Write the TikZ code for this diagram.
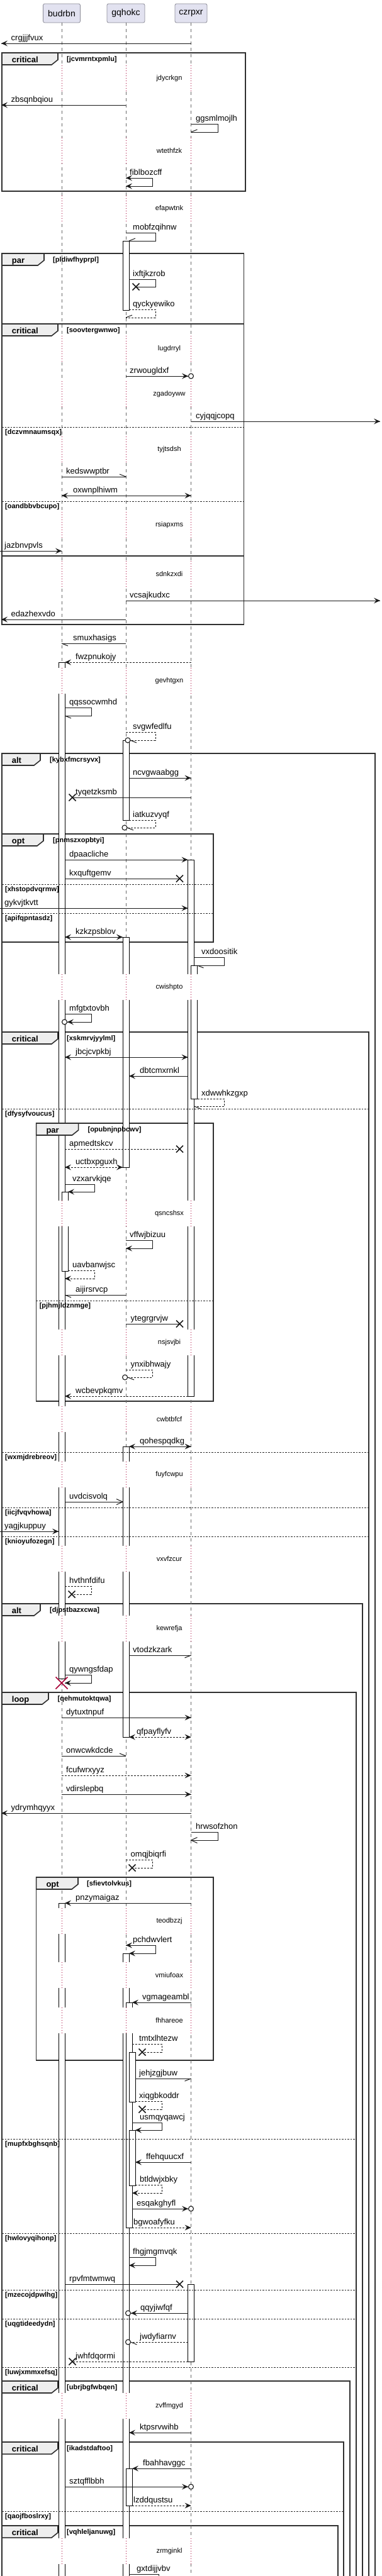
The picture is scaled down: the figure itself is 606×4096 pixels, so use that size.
\documentclass[tikz,border=0pt]{standalone}
\usepackage{fontspec}
\setmainfont{Liberation Sans}
\usetikzlibrary{arrows.meta}
\definecolor{partfill}{HTML}{E2E2F0}
\definecolor{partline}{HTML}{8A8A96}
\definecolor{lifec}{HTML}{6A6A6A}
\definecolor{delayc}{HTML}{A80036}
\definecolor{framec}{HTML}{303030}
\definecolor{tabfill}{HTML}{EEEEEE}
\tikzset{
 part/.style={draw=partline, fill=partfill, rounded corners=2.5pt, line width=0.8pt, minimum height=30pt, inner sep=0pt, font=\fontsize{14}{16}\selectfont},
 life/.style={draw=lifec, line width=0.8pt, dash pattern=on 5pt off 5pt},
 dly/.style={draw=delayc, line width=1pt, dash pattern=on 1pt off 3pt},
 ml/.style={draw=black!90, line width=1pt},
 dl/.style={ml, dash pattern=on 3pt off 2pt},
 actbar/.style={draw=black, fill=white, line width=1pt},
 frm/.style={draw=framec, line width=1.6pt},
 sepline/.style={draw=black!85, line width=0.8pt, dash pattern=on 2.5pt off 2pt},
 lab/.style={anchor=base west, inner sep=0pt, font=\fontsize{13}{15}\selectfont},
 glab/.style={anchor=base west, inner sep=0pt, font=\bfseries\fontsize{11}{13}\selectfont},
 tlab/.style={anchor=base west, inner sep=0pt, font=\bfseries\fontsize{13}{15}\selectfont},
 dlab/.style={anchor=center, inner sep=0pt, font=\fontsize{11}{13}\selectfont},
}
\newcommand\mHR[2]{\fill[black!90] (#1,#2) -- ++(-10,-4.5) -- ++(4,4.5) -- ++(-4,4.5) -- cycle;}
\newcommand\mHL[2]{\fill[black!90] (#1,#2) -- ++(10,-4.5) -- ++(-4,4.5) -- ++(4,4.5) -- cycle;}
\newcommand\mOR[2]{\draw[ml] (#1,#2) ++(-10,-4.5) -- (#1,#2) -- ++(-10,4.5);}
\newcommand\mOL[2]{\draw[ml] (#1,#2) ++(10,-4.5) -- (#1,#2) -- ++(10,4.5);}
\newcommand\mBRU[2]{\draw[ml] (#1,#2) -- ++(-10,-4);}
\newcommand\mBRL[2]{\draw[ml] (#1,#2) -- ++(-10,4);}
\newcommand\mBLU[2]{\draw[ml] (#1,#2) -- ++(10,-4);}
\newcommand\mBLL[2]{\draw[ml] (#1,#2) -- ++(10,4);}
\newcommand\mX[2]{\draw[black!90, line width=1.5pt] (#1,#2) ++(-5.5,-5.5) -- ++(11,11) ++(-11,0) -- ++(11,-11);}
\newcommand\mC[2]{\draw[black!90, line width=1.1pt, fill=white] (#1,#2) circle[radius=4];}
\newcommand\mT[4]{\node[lab] (#1) at (#2,{#3-5}) {#4};}
\newcommand\mFrm[4]{\draw[frm] (#1,#2) rectangle (#3,#4);}
\newcommand\mTab[7]{%
 \draw[frm, fill=tabfill] (#1,#2) -- (#3,#2) -- (#3,{#2+11}) -- ({#3-10},{#2+19}) -- (#1,{#2+19}) -- cycle;
 \node[tlab] (#7t) at ({#1+15.7},{#2+15}) {#4};
 \node[glab] (#7g) at (#5,{#2+13.5}) {#6};}
\newcommand\mSep[5]{%
 \draw[sepline] (#1,#3) -- (#2,#3);
 \node[glab] (#5) at ({#1+5},{#3+11.5}) {#4};}
\newcommand\mBar[4]{\draw[actbar] (#1,#2) rectangle (#3,#4);}
\newcommand\mDly[3]{%
 \fill[white] (86,{#2-21}) rectangle (112,{#2+20});
 \fill[white] (190,{#2-21}) rectangle (219,{#2+20});
 \fill[white] (293,{#2-21}) rectangle (318,{#2+20});
 \draw[dly] (98,{#2-21}) -- (98,{#2+20});
 \draw[dly] (200,{#2-21}) -- (200,{#2+20});
 \draw[dly] (303.5,{#2-21}) -- (303.5,{#2+20});
 \node[dlab] (#1) at (269,#2) {#3};}
\begin{document}
\begin{tikzpicture}[x=1pt,y=-1pt]
\useasboundingbox (0,0) rectangle (606,4096);
\fill[white] (0,0) rectangle (606,4096);
\clip (0,0) rectangle (606,4096);
% ---------- frames ----------
\mFrm{3}{84}{390}{304}
\mFrm{3}{403}{387.5}{515}
\mFrm{3}{515}{387.5}{884}
\mFrm{3}{884}{387.5}{993}
\mFrm{3}{1198}{596}{4110}
\mFrm{3}{1326}{339}{1498}
\mFrm{3}{1641}{586}{4110}
\mFrm{57.6}{1786}{339}{2228}
\mFrm{3}{2550}{576}{4110}
\mFrm{3}{2691}{566}{4110}
\mFrm{57.6}{2985}{339}{3276}
\mFrm{3}{3786}{556}{4110}
\mFrm{3}{3883}{546}{4110}
\mFrm{3}{4016}{537}{4110}
% ---------- participants and lifelines ----------
\node[part, minimum width=59pt] (pb) at (98,21) {budrbn};
\node[part, minimum width=60pt] (pg) at (200,21) {gqhokc};
\node[part, minimum width=51pt] (pc) at (303.5,21) {czrpxr};
\coordinate (eb) at (98,4110);
\coordinate (eg) at (200,4110);
\coordinate (ec) at (303.5,4110);
\draw[life] (pb.south) -- (eb);
\draw[life] (pg.south) -- (eg);
\draw[life] (pc.south) -- (ec);
% ---------- activation bars ----------
\mBar{93}{1053}{103}{2669}
\mBar{298.5}{1367}{308.5}{2220}
\mBar{195}{383}{205}{493}
\mBar{195}{1177}{205}{1304}
\mBar{195}{1490}{205}{1856}
\mBar{303.5}{1535}{313.5}{1747}
\mBar{98}{1895}{108}{2021}
\mBar{195}{2300}{205}{2762}
\mBar{93}{3026}{103}{4110}
\mBar{195}{3106}{205}{4110}
\mBar{200}{3184}{210}{3542}
\mBar{205}{3263}{215}{3342}
\mBar{205}{3387}{215}{3475}
\mBar{298.5}{3632}{308.5}{3755}
\mBar{200}{3925}{210}{3984}
% ---------- tabs, separators ----------
\mTab{3}{84}{92}{critical}{106}{[jcvmrntxpmlu]}{f1}
\mTab{3}{403}{70}{par}{84}{[pldiwfhyprpl]}{f2}
\mTab{3}{515}{92}{critical}{106}{[soovtergwnwo]}{f3}
\mTab{3}{1198}{64}{alt}{79}{[kybxfmcrsyvx]}{f5}
\mTab{3}{1326}{69}{opt}{84}{[pnmszxopbtyi]}{f6}
\mTab{3}{1641}{92}{critical}{106}{[xskmrvjyylml]}{f7}
\mTab{57.6}{1786}{124.6}{par}{139.4}{[opubnjnpbcwv]}{f8}
\mTab{3}{2550}{64}{alt}{79}{[djpstbazxcwa]}{f9}
\mTab{3}{2691}{77}{loop}{91.5}{[qehmutoktqwa]}{f10}
\mTab{57.6}{2985}{124}{opt}{138}{[sfievtolvkus]}{f11}
\mTab{3}{3786}{92}{critical}{106}{[ubrjbgfwbqen]}{f12}
\mTab{3}{3883}{92}{critical}{106}{[ikadstdaftoo]}{f13}
\mTab{3}{4016}{92}{critical}{106}{[vqhleljanuwg]}{f14}
\mSep{3}{387.5}{679}{[dczvmnaumsqx]}{s1}
\mSep{3}{387.5}{797}{[oandbbvbcupo]}{s2}
\mSep{3}{339}{1406}{[xhstopdvqrmw]}{s3}
\mSep{3}{339}{1452}{[apifqpntasdz]}{s4}
\mSep{3}{586}{1763}{[dfysyfvoucus]}{s5}
\mSep{57.6}{339}{2068}{[pjhmjldznmge]}{s6}
\mSep{3}{586}{2309}{[wxmjdrebreov]}{s7}
\mSep{3}{586}{2397}{[iicjfvqvhowa]}{s8}
\mSep{3}{586}{2443}{[knioyufozegn]}{s9}
\mSep{3}{566}{3401}{[mupfxbghsqnb]}{s10}
\mSep{3}{566}{3551}{[hwlovyqihonp]}{s11}
\mSep{3}{566}{3641}{[mzecojdpwlhg]}{s12}
\mSep{3}{566}{3687}{[uqgtideedydn]}{s13}
\mSep{3}{566}{3764}{[luwjxmmxefsq]}{s14}
\mSep{3}{546}{3993}{[qaojfboslrxy]}{s15}
% ---------- delays ----------
\mDly{d1}{125}{jdycrkgn}
\mDly{d2}{240}{wtethfzk}
\mDly{d3}{332}{efapwtnk}
\mDly{d4}{555}{lugdrryl}
\mDly{d5}{627}{zgadoyww}
\mDly{d6}{715}{tyjtsdsh}
\mDly{d7}{835}{rsiapxms}
\mDly{d8}{913}{sdnkzxdi}
\mDly{d9}{1083}{gevhtgxn}
\mDly{d10}{1570}{cwishpto}
\mDly{d11}{1930}{qsncshsx}
\mDly{d12}{2135}{nsjsvjbi}
\mDly{d13}{2257}{cwbtbfcf}
\mDly{d14}{2345}{fuyfcwpu}
\mDly{d15}{2479}{vxvfzcur}
\mDly{d16}{2590}{kewrefja}
\mDly{d17}{3055}{teodbzzj}
\mDly{d18}{3141}{vmiufoax}
\mDly{d19}{3213}{fhhareoe}
\mDly{d20}{3826}{zvffmgyd}
\mDly{d21}{4057}{zrmginkl}
% ---------- messages ----------
\draw[ml] (303.5,69) -- (2,69); \mHL{2}{69} \mT{t1}{17.5}{69}{crgjjjfvux}
\draw[ml] (200,167) -- (2,167); \mHL{2}{167} \mT{t2}{17.5}{167}{zbsqnbqiou}
\draw[ml] (303.5,197) -- (346,197) -- (346,210) -- (303.5,210); \mBLU{303.5}{210} \mT{t3}{311}{197}{ggsmlmojlh}
\draw[ml] (200,283) -- (242,283) -- (242,296) -- (200,296); \mHL{200}{283} \mHL{200}{296} \mT{t4}{206}{283}{fiblbozcff}
\draw[ml] (200,370) -- (247,370) -- (247,383) -- (205,383); \mBLU{205}{383} \mT{t5}{211}{370}{mobfzqihnw}
\draw[ml] (205,444) -- (247,444) -- (247,456) -- (216,456); \mX{216}{456} \mT{t6}{211}{444}{ixftjkzrob}
\draw[dl] (205,492) -- (247,492) -- (247,505) -- (200,505); \mBLU{200}{505} \mT{t7}{211}{492}{qyckyewiko}
\draw[ml] (200,598) -- (299,598); \mHR{299}{598} \mC{303.5}{598} \mT{t8}{206}{598}{zrwougldxf}
\draw[ml] (303.5,670) -- (604,670); \mHR{604}{670} \mT{t9}{311}{670}{cyjqqjcopq}
\draw[ml] (98,758) -- (200,758); \mBRU{200}{758} \mT{t10}{105}{758}{kedswwptbr}
\draw[ml] (98,788) -- (303.5,788); \mHL{98}{788} \mHR{303.5}{788} \mT{t11}{116}{788}{oxwnplhiwm}
\draw[ml] (0,876) -- (98,876); \mHR{98}{876} \mT{t12}{7}{876}{jazbnvpvls}
\draw[ml] (200,955) -- (604,955); \mHR{604}{955} \mT{t13}{206}{955}{vcsajkudxc}
\draw[ml] (200,985) -- (2,985); \mHL{2}{985} \mT{t14}{17.5}{985}{edazhexvdo}
\draw[ml] (200,1023) -- (98,1023); \mBLL{98}{1023} \mT{t15}{116}{1023}{smuxhasigs}
\draw[dl] (303.5,1053) -- (103,1053); \mHL{103}{1053} \mT{t16}{120}{1053}{fwzpnukojy}
\draw[ml] (103,1125) -- (145,1125) -- (145,1138) -- (103,1138); \mBLL{103}{1138} \mT{t17}{110}{1125}{qqssocwmhd}
\draw[dl] (200,1164) -- (247,1164) -- (247,1177) -- (207,1177); \mC{203}{1177} \mBLL{207}{1177} \mT{t18}{211}{1164}{svgwfedlfu}
\draw[ml] (205,1237) -- (303.5,1237); \mHR{303.5}{1237} \mT{t19}{211}{1237}{ncvgwaabgg}
\draw[ml] (303.5,1268) -- (115,1268); \mX{115}{1268} \mT{t20}{120}{1268}{tyqetzksmb}
\draw[dl] (205,1304) -- (247,1304) -- (247,1316) -- (202,1316); \mC{198}{1316} \mBLL{202}{1316} \mT{t21}{211}{1304}{iatkuzvyqf}
\draw[ml] (103,1367) -- (298.5,1367); \mHR{298.5}{1367} \mT{t22}{110}{1367}{dpaacliche}
\draw[ml] (103,1397) -- (285.5,1397); \mX{285.5}{1397} \mT{t23}{110}{1397}{kxquftgemv}
\draw[ml] (0,1444) -- (298.5,1444); \mHR{298.5}{1444} \mT{t24}{7}{1444}{gykvjtkvtt}
\draw[ml] (103,1490) -- (195,1490); \mHL{103}{1490} \mHR{195}{1490} \mT{t25}{120}{1490}{kzkzpsblov}
\draw[ml] (308.5,1522) -- (356,1522) -- (356,1535) -- (313.5,1535); \mBLL{313.5}{1535} \mT{t26}{320}{1522}{vxdoositik}
\draw[ml] (103,1612) -- (145,1612) -- (145,1625) -- (107,1625); \mHL{107}{1625} \mC{102.5}{1625} \mT{t27}{110}{1612}{mfgtxtovbh}
\draw[ml] (103,1681) -- (298.5,1681); \mHL{103}{1681} \mHR{298.5}{1681} \mT{t28}{120}{1681}{jbcjcvpkbj}
\draw[ml] (298.5,1711) -- (205,1711); \mHL{205}{1711} \mT{t29}{222}{1711}{dbtcmxrnkl}
\draw[dl] (313.5,1747) -- (356,1747) -- (356,1759) -- (308.5,1759); \mBLL{308.5}{1759} \mT{t30}{320}{1747}{xdwwhkzgxp}
\draw[dl] (103,1827) -- (285.5,1827); \mX{285.5}{1827} \mT{t31}{110}{1827}{apmedtskcv}
\draw[dl] (103,1856) -- (195,1856); \mHL{103}{1856} \mHR{195}{1856} \mT{t32}{120}{1856}{uctbxpguxh}
\draw[ml] (103,1883) -- (150,1883) -- (150,1895) -- (108,1895); \mHL{108}{1895} \mT{t33}{115}{1883}{vzxarvkjqe}
\draw[ml] (200,1972) -- (242,1972) -- (242,1985) -- (200,1985); \mHL{200}{1985} \mT{t34}{206}{1972}{vffwjbizuu}
\draw[dl] (108,2020) -- (150,2020) -- (150,2033) -- (103,2033); \mHL{103}{2033} \mT{t35}{115}{2020}{uavbanwjsc}
\draw[ml] (200,2059) -- (103,2059); \mBLL{103}{2059} \mT{t36}{120}{2059}{aijirsrvcp}
\draw[ml] (200,2105) -- (285.5,2105); \mX{285.5}{2105} \mT{t37}{207.5}{2105}{ytegrgrvjw}
\draw[dl] (200,2178) -- (242,2178) -- (242,2190) -- (203,2190); \mC{198.6}{2190} \mBLL{203}{2190} \mT{t38}{207.5}{2178}{ynxibhwajy}
\draw[dl] (298.5,2220) -- (103,2220); \mHL{103}{2220} \mT{t39}{120}{2220}{wcbevpkqmv}
\draw[ml] (205,2300) -- (303.5,2300); \mHL{205}{2300} \mHR{303.5}{2300} \mT{t40}{222}{2300}{qohespqdkg}
\draw[ml] (103,2388) -- (195,2388); \mOR{195}{2388} \mT{t41}{110}{2388}{uvdcisvolq}
\draw[ml] (0,2435) -- (93,2435); \mHR{93}{2435} \mT{t42}{7}{2435}{yagjkuppuy}
\draw[dl] (103,2522) -- (145,2522) -- (145,2535) -- (114,2535); \mX{114}{2535} \mT{t43}{110}{2522}{hvthnfdifu}
\draw[ml] (205,2632) -- (303.5,2632); \mBRL{303.5}{2632} \mT{t44}{211}{2632}{vtodzkzark}
\draw[ml] (103,2663) -- (145,2663) -- (145,2676) -- (103,2676); \mHL{103}{2676} \mT{t45}{110}{2663}{qywngsfdap}
\draw[delayc, line width=1.6pt] (98,2676) ++(-9.5,-9.5) -- ++(19,19) ++(-19,0) -- ++(19,-19);
\draw[ml] (98,2731) -- (303.5,2731); \mHR{303.5}{2731} \mT{t46}{105}{2731}{dytuxtnpuf}
\draw[dl] (205,2762) -- (303.5,2762); \mHL{205}{2762} \mHR{303.5}{2762} \mT{t47}{217}{2762}{qfpayflyfv}
\draw[ml] (98,2792) -- (200,2792); \mBRU{200}{2792} \mT{t48}{105}{2792}{onwcwkdcde}
\draw[dl] (98,2823) -- (303.5,2823); \mHR{303.5}{2823} \mT{t49}{105}{2823}{fcufwrxyyz}
\draw[ml] (98,2853) -- (303.5,2853); \mHR{303.5}{2853} \mT{t50}{105}{2853}{vdirslepbq}
\draw[ml] (303.5,2883) -- (2,2883); \mHL{2}{2883} \mT{t51}{17.5}{2883}{ydrymhqyyx}
\draw[ml] (303.5,2913) -- (346,2913) -- (346,2926) -- (303.5,2926); \mOL{303.5}{2926} \mT{t52}{311}{2913}{hrwsofzhon}
\draw[dl] (200,2957) -- (242,2957) -- (242,2970) -- (210,2970); \mX{210}{2970} \mT{t53}{207.5}{2957}{omqjbiqrfi}
\draw[ml] (303.5,3026) -- (103,3026); \mHL{103}{3026} \mT{t54}{120}{3026}{pnzymaigaz}
\draw[ml] (200,3093) -- (247,3093) -- (247,3106) -- (205,3106); \mHL{200}{3093} \mHL{205}{3106} \mT{t55}{211}{3093}{pchdwvlert}
\draw[ml] (303.5,3184) -- (210,3184); \mHL{210}{3184} \mT{t56}{226}{3184}{vgmageambl}
\draw[dl] (210,3250) -- (257,3250) -- (257,3263) -- (226,3263); \mX{226}{3263} \mT{t57}{221}{3250}{tmtxlhtezw}
\draw[ml] (215,3305) -- (303.5,3305); \mBRL{303.5}{3305} \mT{t58}{221}{3305}{jehjzgjbuw}
\draw[dl] (215,3341) -- (257,3341) -- (257,3354) -- (226,3354); \mX{226}{3354} \mT{t59}{221}{3341}{xiqgbkoddr}
\draw[ml] (210,3375) -- (257,3375) -- (257,3387) -- (215,3387); \mHL{215}{3387} \mT{t60}{222}{3375}{usmqyqawcj}
\draw[ml] (303.5,3438) -- (215,3438); \mHL{215}{3438} \mT{t61}{232}{3438}{ffehquucxf}
\draw[dl] (215,3474) -- (257,3474) -- (257,3487) -- (210,3487); \mHL{210}{3487} \mT{t62}{222}{3474}{btldwjxbky}
\draw[ml] (210,3512) -- (299,3512); \mHR{299}{3512} \mC{303.5}{3512} \mT{t63}{217}{3512}{esqakghyfl}
\draw[dl] (210,3542) -- (303.5,3542); \mHR{303.5}{3542} \mT{t64}{212}{3542}{bgwoafyfku}
\draw[ml] (205,3589) -- (247,3589) -- (247,3602) -- (205,3602); \mHL{205}{3602} \mT{t65}{211}{3589}{fhgjmgmvqk}
\draw[ml] (103,3632) -- (285.5,3632); \mX{285.5}{3632} \mT{t66}{110}{3632}{rpvfmtwmwq}
\draw[ml] (298.5,3678) -- (208,3678); \mHL{208}{3678} \mC{203.5}{3678} \mT{t67}{223}{3678}{qqyjiwfqf}
\draw[dl] (298.5,3724) -- (207.5,3724); \mBLL{207.5}{3724} \mC{203.5}{3724} \mT{t68}{222}{3724}{jwdyfiarnv}
\draw[dl] (298.5,3755) -- (115,3755); \mX{115}{3755} \mT{t69}{120}{3755}{jwhfdqormi}
\draw[ml] (303.5,3868) -- (205,3868); \mHL{205}{3868} \mT{t70}{222}{3868}{ktpsrvwihb}
\draw[ml] (303.5,3925) -- (210,3925); \mHL{210}{3925} \mT{t71}{227}{3925}{fbahhavggc}
\draw[ml] (103,3954) -- (299,3954); \mHR{299}{3954} \mC{303.5}{3954} \mT{t72}{110}{3954}{sztqfflbbh}
\draw[dl] (210,3984) -- (303.5,3984); \mHR{303.5}{3984} \mT{t73}{212}{3984}{lzddqustsu}
\draw[ml] (205,4093) -- (252,4093) -- (252,4110); \mT{t74}{217}{4093}{gxtdijjvbv}
\end{tikzpicture}
\end{document}
